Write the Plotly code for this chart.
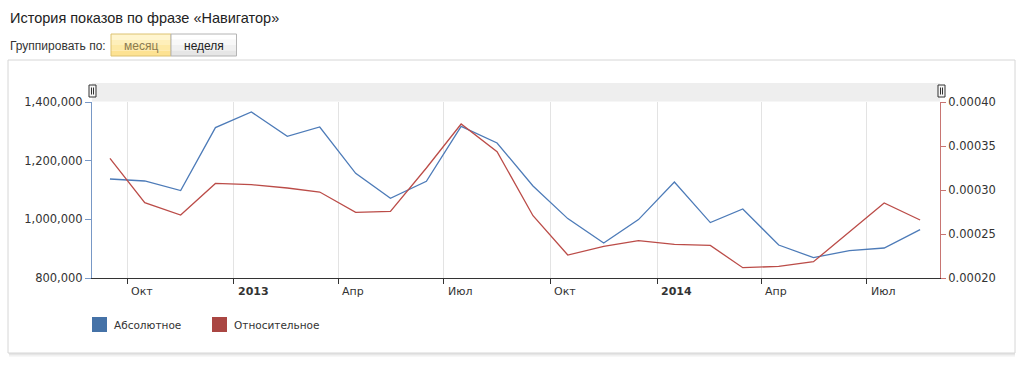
import plotly.graph_objects as go

# ---- data ----
months = ["2012-09-16", "2012-10-16", "2012-11-16", "2012-12-16",
          "2013-01-16", "2013-02-16", "2013-03-16", "2013-04-16",
          "2013-05-16", "2013-06-16", "2013-07-16", "2013-08-16",
          "2013-09-16", "2013-10-16", "2013-11-16", "2013-12-16",
          "2014-01-16", "2014-02-16", "2014-03-16", "2014-04-16",
          "2014-05-16", "2014-06-16", "2014-07-16", "2014-08-16"]
absolute = [1137500, 1130700, 1098000, 1312700, 1365900, 1283000,
            1314800, 1157000, 1071700, 1129700, 1317000, 1260300,
            1113600, 1002500, 919300, 999100, 1127300, 988900,
            1035200, 912500, 869500, 893400, 902300, 965000]
relative = [0.000336, 0.0002856, 0.0002716, 0.0003075, 0.000306, 0.0003023,
            0.0002977, 0.0002746, 0.0002757, 0.000325, 0.000375, 0.0003435,
            0.0002708, 0.0002261, 0.000236, 0.0002424, 0.0002382, 0.000237,
            0.0002117, 0.0002132, 0.0002185, 0.0002523, 0.0002852, 0.0002659]
tick_dates = ["2012-10-01", "2013-01-01", "2013-04-01", "2013-07-01",
              "2013-10-01", "2014-01-01", "2014-04-01", "2014-07-01"]
tick_labels = ["Окт", "<b>2013</b>", "Апр", "Июл",
               "Окт", "<b>2014</b>", "Апр", "Июл"]
series_names = ["Абсолютное", "Относительное"]

W, H = 1024, 368
L, R, T, B = 92, 84, 102, 90
PW, PH = W - L - R, H - T - B

BLUE = "#4572A7"
RED = "#AA4643"
FONT = "DejaVu Sans"


def px(x):
    return (x - L) / PW


def py(y):
    return (H - B - y) / PH


fig = go.Figure()
fig.add_trace(go.Scatter(x=months, y=absolute, mode="lines",
                         name=series_names[0],
                         line=dict(color="#4d7bb8", width=1.3),
                         yaxis="y", showlegend=False))
fig.add_trace(go.Scatter(x=months, y=relative, mode="lines",
                         name=series_names[1],
                         line=dict(color="#bb4c48", width=1.3),
                         yaxis="y2", showlegend=False))

shapes = []
annotations = []

# container box
shapes.append(dict(type="rect", xref="paper", yref="paper", layer="below",
                   x0=px(8), x1=px(1015), y0=py(353), y1=py(60),
                   line=dict(color="#d6d6d6", width=1), fillcolor="white"))
for i, c in enumerate(["#d0d0d0", "#e4e4e4", "#f0f0f0"]):
    shapes.append(dict(type="line", xref="paper", yref="paper",
                       x0=px(9), x1=px(1015), y0=py(354 + i), y1=py(354 + i),
                       line=dict(color=c, width=1)))

# navigator band
shapes.append(dict(type="rect", xref="paper", yref="paper", layer="below",
                   x0=0, x1=1, y0=py(101.5), y1=py(83),
                   line=dict(width=0), fillcolor="#eeeeee"))
for hx in (92.5, 941.5):
    shapes.append(dict(type="rect", xref="paper", yref="paper",
                       x0=px(hx - 3.5), x1=px(hx + 3.5), y0=py(97), y1=py(85),
                       line=dict(color="#333333", width=1), fillcolor="#f6f6f6"))
    for dx in (-1, 1):
        shapes.append(dict(type="line", xref="paper", yref="paper",
                           x0=px(hx + dx), x1=px(hx + dx), y0=py(94.5), y1=py(87.5),
                           line=dict(color="#333333", width=1)))


# buttons
def button(x0, x1, strips, edge, text, tcolor):
    n = len(strips)
    for i in range(n):
        ya = 34 + (56 - 34) * i / n
        yb = 34 + (56 - 34) * (i + 1) / n
        shapes.append(dict(type="rect", xref="paper", yref="paper",
                           x0=px(x0), x1=px(x1), y0=py(yb), y1=py(ya),
                           line=dict(width=0), fillcolor=strips[i]))
    shapes.append(dict(type="rect", xref="paper", yref="paper",
                       x0=px(x0), x1=px(x1), y0=py(56), y1=py(34),
                       line=dict(color=edge, width=1), fillcolor="rgba(0,0,0,0)"))
    annotations.append(dict(xref="paper", yref="paper", x=px((x0 + x1) / 2), y=py(46),
                            text=text, showarrow=False, xanchor="center", yanchor="middle",
                            font=dict(family="Liberation Sans", size=12, color=tcolor)))


button(111, 171, ["#fff5cf", "#feefba", "#fde9a5", "#fde292"], "#dcc272",
       "месяц", "#8a7a50")
button(171, 236.5, ["#ffffff", "#f8f8f8", "#f0f0f0", "#e6e6e6"], "#b4b4b4",
       "неделя", "#222222")

# page title and label
annotations.append(dict(xref="paper", yref="paper", x=px(8), y=py(18),
                        text="История показов по фразе «Навигатор»", showarrow=False,
                        xanchor="left", yanchor="middle",
                        font=dict(family="Liberation Sans", size=14.5, color="#222222")))
annotations.append(dict(xref="paper", yref="paper", x=px(8), y=py(46),
                        text="Группировать по:", showarrow=False,
                        xanchor="left", yanchor="middle",
                        font=dict(family="Liberation Sans", size=12, color="#333333")))

# x tick labels (left-aligned next to the tick, as in the reference)
for d, t in zip(tick_dates, tick_labels):
    annotations.append(dict(xref="x", yref="paper", x=d, y=0, yshift=-13, xshift=2,
                            text=t, showarrow=False, xanchor="left", yanchor="middle",
                            font=dict(family=FONT, size=11, color="#333333")))

# legend
for (x0, col, name) in ((92, BLUE, series_names[0]), (212, RED, series_names[1])):
    shapes.append(dict(type="rect", xref="paper", yref="paper",
                       x0=px(x0), x1=px(x0 + 15), y0=py(332), y1=py(317),
                       line=dict(width=0), fillcolor=col))
    annotations.append(dict(xref="paper", yref="paper", x=px(x0 + 20), y=py(325),
                            text=name, showarrow=False, xanchor="left", yanchor="middle",
                            font=dict(family=FONT, size=10.5, color="#333333")))

fig.update_layout(
    width=W, height=H,
    margin=dict(l=L, r=R, t=T, b=B, pad=0),
    paper_bgcolor="white", plot_bgcolor="white",
    showlegend=False,
    shapes=shapes, annotations=annotations,
    xaxis=dict(type="date", range=["2012-08-31 12:00", "2014-09-02 04:00"],
               tickvals=tick_dates, showticklabels=False,
               ticks="outside", ticklen=5, tickcolor="#333333",
               showgrid=True, gridcolor="#e3e3e3", gridwidth=1,
               showline=True, linecolor="#333333", linewidth=1,
               zeroline=False, fixedrange=True),
    yaxis=dict(range=[800000, 1400000], tickvals=[800000, 1000000, 1200000, 1400000],
               tickformat=",d", side="left",
               showline=True, linecolor="#7898c6", linewidth=1,
               ticks="outside", ticklen=6, tickcolor="#7898c6",
               showgrid=False, zeroline=False,
               tickfont=dict(family=FONT, size=11.5, color="#333333")),
    yaxis2=dict(range=[0.0002, 0.0004],
                tickvals=[0.0002, 0.00025, 0.0003, 0.00035, 0.0004],
                tickformat=".5f", side="right", overlaying="y", anchor="x",
                showline=True, linecolor="#c87572", linewidth=1,
                ticks="outside", ticklen=5, tickcolor="#c87572",
                showgrid=False, zeroline=False,
                tickfont=dict(family=FONT, size=11.5, color="#333333")),
)

fig.write_html("out.html", config={"displayModeBar": False},
               post_script="document.body.style.margin='0';document.body.style.overflow='hidden';")
